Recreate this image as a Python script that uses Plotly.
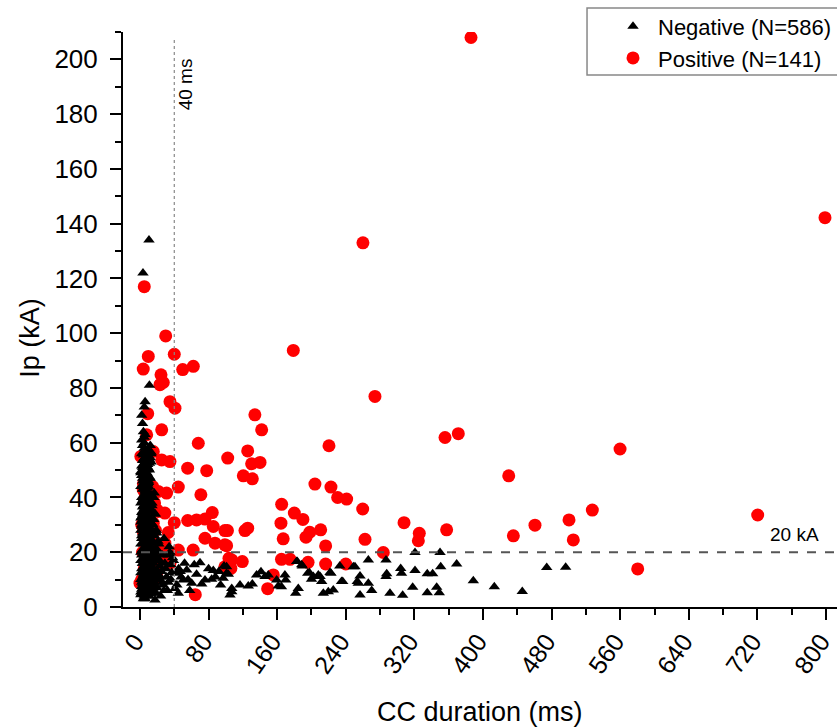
import plotly.graph_objects as go

# ---------------- data ----------------
neg_x = [3, 5, 2, 7, 4, 9, 6, 3, 11, 8, 2, 5, 12, 7, 4, 10, 3, 6, 13, 8, 2, 5, 9, 11, 4, 7, 3, 6, 10, 2,
         8, 5, 12, 4, 7, 9, 3, 6, 11, 2, 8, 5, 14, 4, 7, 10, 3, 6, 12, 9, 2, 5, 8, 4, 11, 7, 3, 13, 6, 9,
         2, 5, 10, 4, 8, 3, 12, 6, 7, 2, 9, 5, 11, 4, 8, 3, 6, 10, 2, 7, 5, 9, 4, 6, 3, 8, 5, 1, 7, 10,
         1, 6, 13, 4, 8, 1, 6, 9, 3, 7, 5, 1, 8, 3, 10, 6, 1, 4, 8, 5, 2, 9, 6, 3, 7, 4, 1, 1, 1, 11,
         12, 14, 13, 15, 14, 15, 16, 16, 12, 14, 11, 10, 11, 12, 13, 9, 10, 9, 7, 5, 6, 3, 5, 11, 10.5, 3.5,
         15.5, 19.5, 9.7, 16.7, 23, 29, 36, 37, 42.8, 54.5, 50.5, 63.3, 70, 85.5, 97, 107, 40.8, 44.7, 17.5, 27,
         75.8, 83.6, 60.3, 72, 18, 22, 25, 20, 31, 33, 26, 18, 21, 15, 17, 14, 32, 48, 56, 66,
         80, 88, 92, 94, 98, 103, 58, 45, 38, 34, 28, 35, 13, 8, 4, 2, 6, 9, 12, 7,
         1, 2, 3, 4, 5, 6, 7, 8, 9, 10, 11, 12, 13, 14, 1, 2, 3, 4, 5, 6,
         7, 8, 9, 10, 11, 12, 13, 1, 2, 3, 4, 5, 6, 7, 8, 9, 10, 11, 12, 2,
         3, 4, 5, 6, 7, 8, 9, 10, 11, 1, 2, 3, 4, 5, 6, 7, 8, 9, 10, 3,
         4, 5, 6, 7, 8, 9, 2, 3, 4, 5, 6, 7, 8, 1, 3, 5, 7, 9, 11, 13,
         2, 4, 6, 8, 10, 12, 14, 3, 5, 7, 9, 11, 1, 4, 6, 8, 10, 12, 2, 5,
         13, 15, 17, 19, 14, 16, 18, 20, 13, 15, 17, 19, 14, 16, 18, 12, 14, 16, 13, 15,
         17, 19, 21, 23, 16, 18, 20, 22, 24, 26, 30, 36, 39, 43, 47, 52, 19, 24, 28, 33,
         101, 101, 107, 105, 116.6, 126.3, 131, 136, 141.1, 145.8, 149.6, 159.4, 161.3, 169, 169.9, 182.7, 189.3, 184.6, 181.6, 195.6,
         202.1, 208, 211.9, 213.8, 219.6, 222.7, 225.4, 233, 235, 183.4, 188.6, 165, 197.4, 200, 210, 221.6,
         248.8, 236.4, 256.6, 254.6, 266.3, 266.3, 270.2, 256.6, 250.7, 253.4,
         286.9, 287.7, 286.9, 291.5, 304, 305, 306.3, 318, 320.7, 320.7, 335, 341.3, 335, 346, 349, 349.9, 350.7, 369.3,
         388.7, 413.2, 445.8, 474.3, 496.4]
neg_y = [59, 58, 56, 55, 54, 53, 52, 51, 50, 49, 48, 47, 47, 46, 45, 44, 43, 42, 41, 40, 40, 39, 38, 37, 37, 36, 35, 34, 33, 33,
         32, 31, 30, 30, 29, 28, 28, 27, 26, 26, 25, 24, 24, 23, 22, 22, 21, 21, 20, 19, 19, 18, 18, 17, 17, 16, 16, 15, 15, 14,
         14, 13, 13, 12, 12, 11, 11, 10, 10, 9, 9, 8, 8, 7, 7, 6, 6, 6, 5, 5, 4, 4, 3, 3, 7.5, 9.5, 11.5, 12.5, 13.5, 15.5,
         17, 18.5, 19.5, 20.5, 21.5, 23, 24, 26.5, 27, 28, 30, 31, 31, 34, 35, 36.5, 38, 39.5, 41, 43, 44, 45, 46.5, 47, 48, 50, 10, 20, 28, 12,
         16, 11, 8, 10, 17, 13, 9, 14, 5, 6, 4, 27, 31, 35, 38, 42, 46, 51, 57, 60, 63, 67, 73, 81, 134, 122,
         23.3, 27, 31.2, 41.6, 17, 16, 15.4, 12.6, 12.3, 13.5, 9.9, 15.4, 16.2, 13.3, 10.5, 5.6, 6.8, 5, 2.6, 8,
         9.9, 10.1, 8.7, 8.4, 12, 10, 13, 7, 11, 9, 19, 21, 24, 30, 34, 27, 6, 11, 10, 12,
         14, 11, 13, 8, 15, 12, 6, 14, 18, 22, 25, 20, 53, 57, 64, 70, 75, 44, 36, 48,
         4.5, 6.5, 8.5, 10.5, 12.5, 14.5, 16.5, 18.5, 20.5, 22.5, 24.5, 26.5, 28.5, 30.5, 32.5, 34.5, 36.5, 38.5, 40.5, 42.5,
         44.5, 46.5, 48.5, 50.5, 52.5, 54.5, 56.5, 5.5, 7.5, 9.5, 11.5, 13.5, 15.5, 17.5, 19.5, 21.5, 23.5, 25.5, 27.5, 29.5,
         31.5, 33.5, 35.5, 37.5, 39.5, 41.5, 43.5, 45.5, 47.5, 49.5, 51.5, 53.5, 55.5, 3.5, 6, 8, 10, 12, 14, 16,
         18, 20, 22, 24, 26, 28, 30, 32, 34, 36, 38, 40, 42, 44, 46, 48, 50, 52, 54, 56,
         25, 27, 29, 31, 33, 35, 37, 39, 41, 43, 45, 47, 49, 51, 53, 55, 57, 59, 61, 62,
         6, 8, 10, 12, 14, 16, 18, 20, 22, 24, 26, 28, 30, 32, 34, 36, 38, 40, 5, 7,
         9, 11, 13, 15, 17, 19, 21, 23, 11, 9, 14, 10, 17, 8, 13, 16, 5, 4, 6, 19,
         14.7, 12.3, 6.8, 4.4, 8, 7.7, 8.4, 11.7, 12.9, 11.1, 11.7, 9.9, 7.7, 11.7, 9.9, 16.6, 15, 6.8, 5, 12.3,
         11.1, 11.7, 9.3, 5, 5.6, 12.3, 6.2, 15, 9.3, 16.6, 15.4, 7.4, 12.6, 10.1, 11.1, 12.6,
         14.7, 9.3, 11.3, 8.7, 17.2, 8.7, 6, 4.4, 14.7, 9.3,
         17.2, 12.1, 11.1, 5, 14.1, 12.3, 4.3, 7.2, 19.9, 13.3, 12.1, 12.1, 5.2, 7.2, 5.2, 19.9, 14.7, 15.7,
         9.6, 7.4, 5.7, 14.4, 14.5]

pos_x = [386, 798.8, 260, 5, 178.8, 30, 9.7, 40, 3.8, 62.2, 49.8, 24.5, 27.2, 23.3, 35, 40.8, 9, 25.3, 7.8, 68,
         15.5, 25.3, 35, 55.6, 77.8, 102.3, 134, 141.9, 125.6, 130.2, 140, 120.5, 131, 274, 220.4, 204, 222.7, 230.5, 241, 165.2,
         180, 190, 164.4, 198, 210.7, 193.6, 167, 216.5, 122.4, 125.6, 102, 101, 165, 175, 196, 216.5, 119.3, 103.8, 106, 148.9,
         155.5, 355.7, 371.2, 259.7, 307.9, 325.7, 324.6, 357.6, 262.4, 283.7, 240, 430, 435.4, 460.6, 500.3, 505.3, 527.5, 559.8, 580.4, 720.3,
         5.8, 21.3, 31, 44.7, 71, 7.8, 21.3, 29, 84.3, 40, 55.6, 66, 75.8, 85.5, 75.8, 99, 99, 87.5, 33, 27.2,
         44.7, 62, 28.3, 107, 64.5, 99, 21.3, 15.5, 3.8, 14.8, 19.5, 15.5, 3.8, 29, 23.3, 9.7, 35, 0, 2, 5,
         3, 8, 6, 12, 14, 18, 10, 4, 1, 2, 6, 11, 13, 9, 17]
pos_y = [208, 142.2, 133, 117, 93.7, 99, 91.5, 92.3, 86.9, 87.9, 86.7, 84.8, 82, 81.2, 75, 72.6, 70.6, 64.7, 62.9, 59.8,
         56.8, 53.7, 53.1, 50.7, 49.8, 54.4, 70.2, 64.7, 57, 52.3, 52.8, 47.9, 46.8, 76.9, 58.9, 44.9, 43.8, 40, 39.4, 37.5,
         34.3, 32, 30.6, 27.3, 28.2, 25.5, 24.9, 22.3, 27.9, 28.8, 27.9, 22.4, 17.4, 17.4, 16.3, 15.7, 16.6, 17.8, 14.1, 6.7,
         11.7, 61.9, 63.3, 35.8, 30.8, 26.9, 24.2, 28.2, 24.7, 19.9, 15.7, 47.9, 26, 29.9, 31.8, 24.5, 35.4, 57.7, 13.9, 33.6,
         43.4, 42.2, 41.6, 43.8, 41, 36.7, 34.9, 34.3, 34.5, 30.8, 31.6, 31.8, 32.1, 29.4, 25.1, 27.9, 22.7, 23.3, 27.2, 23.3,
         20.8, 20.8, 19.6, 17.2, 4.5, 14.7, 13.5, 9.9, 42.8, 44, 35.5, 30.6, 27.5, 23.3, 17.2, 13.5, 16, 8.7, 10, 14,
         20, 25, 32, 22, 18, 28, 38, 45, 55, 30, 40, 12, 24, 34, 38]

x_ticks = [0, 80, 160, 240, 320, 400, 480, 560, 640, 720, 800]
y_ticks = [0, 20, 40, 60, 80, 100, 120, 140, 160, 180, 200]
neg_label = "Negative (N=586)"
pos_label = "Positive (N=141)"
x_title = "CC duration (ms)"
y_title = "Ip (kA)"
vline_x = 40
hline_y = 20

FONT = "Liberation Sans, Arial, sans-serif"
Y_TICK_FONT = dict(family=FONT, size=26, color="black")
X_TICK_FONT = dict(family=FONT, size=25, color="black")

fig = go.Figure()
# positives drawn first so the negatives sit on top (as in the reference)
fig.add_trace(go.Scatter(x=pos_x, y=pos_y, mode="markers", name=pos_label, legendrank=2,
                         marker=dict(symbol="circle", size=13, color="#FF0000")))
fig.add_trace(go.Scatter(x=neg_x, y=neg_y, mode="markers", name=neg_label, legendrank=1,
                         marker=dict(symbol="triangle-up", size=10, color="black")))

# reference lines
fig.add_shape(type="line", x0=vline_x, x1=vline_x, y0=0, y1=208, xref="x", yref="y",
              line=dict(color="#888888", width=1.2, dash="dot"))
fig.add_shape(type="line", x0=0, x1=1, xref="paper", y0=hline_y, y1=hline_y, yref="y",
              line=dict(color="#555555", width=2, dash="dash"))

# legend frame
fig.add_shape(type="rect", xref="paper", yref="paper", x0=0.6499, x1=1.02, y0=0.9252, y1=1.0417,
              line=dict(color="#888888", width=1.5), fillcolor="white", layer="below")

fig.add_annotation(x=52.5, y=190.9, xref="x", yref="y", text="40 ms", showarrow=False,
                   textangle=-90, font=dict(family=FONT, size=19, color="black"))
fig.add_annotation(x=762.7, y=26.3, xref="x", yref="y", text="20 kA", showarrow=False,
                   font=dict(family=FONT, size=19, color="black"))

# axis titles
fig.add_annotation(x=-0.1303, y=0.468, xref="paper", yref="paper", text=y_title, showarrow=False,
                   xanchor="center", yanchor="middle",
                   textangle=-90, font=dict(family=FONT, size=27, color="black"))
fig.add_annotation(x=0.5, y=-0.1826, xref="paper", yref="paper", text=x_title, showarrow=False,
                   xanchor="center", yanchor="middle", font=dict(family=FONT, size=27, color="black"))

axis_common = dict(showgrid=False, zeroline=False, showline=True, linecolor="black", linewidth=2,
                   ticks="outside", ticklen=11, tickwidth=2, tickcolor="black",
                   automargin=False, ticklabeloverflow="allow")

fig.update_xaxes(range=[-19.8, 812.8], tickvals=x_ticks, tickangle=-55, ticklabelstandoff=-3,
                 ticklabelshift=-5,
                 minor=dict(ticks="outside", ticklen=6, tickwidth=2, tickcolor="black", dtick=40, tick0=0),
                 **axis_common)
fig.update_yaxes(range=[0, 210], tickvals=y_ticks, ticklabelstandoff=7,
                 minor=dict(ticks="outside", ticklen=6, tickwidth=2, tickcolor="black", dtick=10, tick0=0),
                 **axis_common)
fig.update_xaxes(tickfont=X_TICK_FONT)
fig.update_yaxes(tickfont=Y_TICK_FONT)

fig.update_layout(
    width=837, height=728,
    margin=dict(l=123, r=0, t=32, b=121),
    plot_bgcolor="white", paper_bgcolor="white",
    font=dict(family=FONT, color="black"),
    legend=dict(x=1, xanchor="right", y=1.046, yanchor="top",
                borderwidth=0, bgcolor="rgba(0,0,0,0)",
                font=dict(family=FONT, size=22, color="black"),
                itemwidth=40, tracegroupgap=0),
    showlegend=True,
)

fig.write_html("out.html")
